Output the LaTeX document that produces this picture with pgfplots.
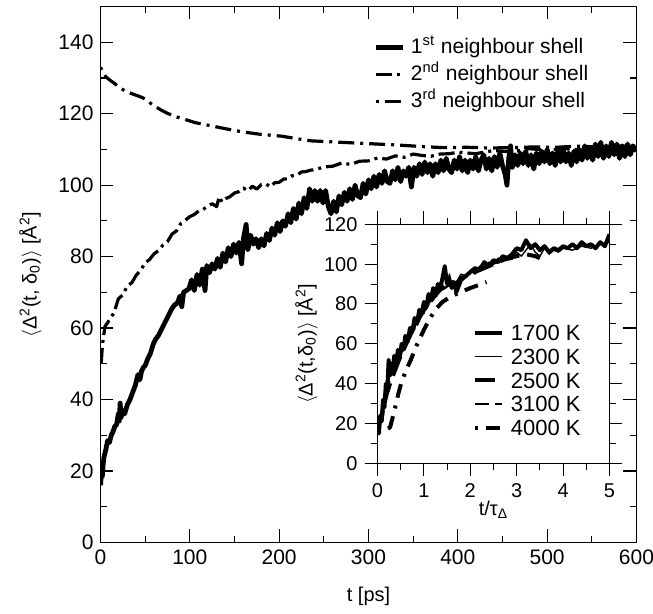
\documentclass[border=0pt]{standalone}
\usepackage{fontspec}
\setmainfont{Liberation Sans}
\usepackage{pgfplots}
\pgfplotsset{compat=1.18}
\newcommand{\mainfont}{\fontsize{10.5bp}{12bp}\selectfont}
\newcommand{\insetfont}{\fontsize{10bp}{12bp}\selectfont}
\newcommand{\insetlegfont}{\fontsize{11bp}{13bp}\selectfont}
\begin{document}
\begin{tikzpicture}
\begin{axis}[
  at={(0,0)}, anchor=south west,
  scale only axis, width=268bp, height=268bp,
  xmin=0, xmax=600, ymin=0, ymax=150,
  xtick={0,100,...,600}, ytick={0,20,...,140},
  minor x tick num=1, minor y tick num=1,
  tick align=inside,
  major tick length=6.5bp, minor tick length=3.4bp,
  axis line style={line width=0.9bp},
  every tick/.style={black, line width=0.6bp},
  /pgf/number format/assume math mode=true,
  tick label style={font=\mainfont},
  label style={font=\mainfont},
  xlabel={t [ps]},
  ylabel={$\langle$Δ\textsuperscript{2}(t, δ\textsubscript{0})$\rangle$ [Å\textsuperscript{2}]},
  every axis x label/.style={at={(axis description cs:0.5,-0.1007)}, anchor=center},
  every axis y label/.style={at={(axis description cs:-0.1306,0.5)}, rotate=90, anchor=center},
  legend style={draw=none, fill=none, at={(axis description cs:0.508,0.9453)}, anchor=north west,
    inner sep=0pt, row sep=2bp, font=\mainfont,
    nodes={inner ysep=0.5bp, inner xsep=3bp, text height=8bp, text depth=2.5bp}},
  legend cell align=left,
  legend image code/.code={\draw[#1] (0bp,0bp) -- (13.5bp,0bp);},
]
\addplot[black, line width=2.4bp, line join=round] coordinates {
(0,16.0)(1,19.5)(2,18.5)(3,22)(4,24)(6,26)(8,28.5)(10,28)(12,30)(14,31)
(16,32.5)(18,33)(20,36)(21,34)(22,39)(23,35)(25,37)(27,36)(30,38.5)(33,40)
(36,42)(39,44)(42,47)(44,45.5)(46,48)(48,49)(50,49.5)(53,51.5)(56,53)(59,55.5)
(62,57)(65,58)(68,59.5)(71,61)(74,62.5)(77,64)(80,65.5)(83,66.5)(86,67)(89,69)
(91,66)(93,70)(96,70.5)(99,71)
(102,73.5)(105,70.5)(108,75)(111,72)(114,76.5)(117,70.5)(119,77.5)(122,75.5)(125,78)(128,76.5)
(131,79.5)(134,77)(137,81)(140,78.5)(143,82.5)(146,80)(149,83.5)(152,81)(155,84)(158,78)
(160,85)(163,89)(165,82)(168,86)(171,83.5)(174,85)(177,82.5)(180,85)(183,83)(186,86.5)
(189,84.5)(192,88)(195,86)(198,89.5)(201,87)(204,90)(207,88.5)(210,92)(213,89.5)(216,93.5)
(219,90.5)(222,95)(225,92)(228,96.5)(231,93.5)(234,99)(237,95.5)(240,98.5)(243,95.5)(246,98.5)
(249,95)(252,98.5)(255,94)(258,92)(261,95.5)(264,92.5)(267,97)(270,94.5)(273,98)(276,95.5)
(279,99)(282,96)(285,100)(288,97)(291,96.5)(294,100.5)(297,97.5)(300,101.5)(303,99)(306,102.5)
(309,99.5)(312,103)(315,100.5)(318,104)(321,101)(324,100.5)(327,104)(330,101.5)(333,105)(336,101)
(339,104)(342,102.5)(345,105)(348,99.5)(351,105)(354,102.5)(357,106)(360,103)(363,106.5)(366,103.5)
(369,106)(372,102.5)(375,106)(378,103.5)(381,107)(384,104)(387,107.5)(390,104.5)(393,103.5)(396,107)
(399,104.5)(402,108)(405,104)(408,107)(411,103.5)(414,107)(417,104.5)(420,108)(423,104)(426,107)
(429,108.5)(432,104.5)(435,107.5)(438,104)(441,108)(444,105)(447,109)(450,105.5)(453,103)(455,100)
(457,107.5)(459,111)(461,105)(464,108.5)(467,105.5)(470,109)(473,106)(476,109.5)(479,105.5)(482,108.5)
(485,104.5)(488,109)(491,106)(494,109.5)(497,106.5)(500,110)(503,106)(506,109)(509,105.5)(512,109.5)
(515,106.5)(518,110)(521,106.5)(524,109)(527,105.5)(530,109.5)(533,106.5)(536,110)(539,107)(542,111)
(545,107.5)(548,110.5)(551,107)(554,111.5)(557,108)(560,112)(563,107.5)(566,111)(569,108)(572,112)
(575,108.5)(578,111.5)(581,107.5)(584,111)(587,108)(590,111.5)(593,108.5)(596,111)(600,109.5)
};
\addlegendentry{1\textsuperscript{st} neighbour shell}
\addplot[black, line width=1.6bp, line join=round, dash pattern=on 8bp off 2.5bp on 1.5bp off 2.5bp] coordinates {
(0.5,50)(1,51)(2,54.5)(3,57)(5,60.5)(8,61.5)(11,62.8)(15,64.2)(20,68.2)(25,69.3)
(30,71.8)(35,72.7)(40,74.8)(45,76.2)(50,78.3)(55,79.2)(60,80.8)(65,81.7)(70,83.3)(75,84.2)
(80,86.3)(85,87.2)(90,89.3)(95,90.2)(100,91.2)(105,91.8)(110,92.8)(115,93.2)(120,94.2)(125,94.8)
(130,94)(133,96.8)(136,95.3)(140,96.2)(145,96.8)(150,97.8)(155,98.2)(160,99.2)(165,98.4)(170,99.7)
(175,98.9)(180,100.2)(185,100.4)(190,99.5)(195,100.7)(200,100.8)(205,101.7)(210,101.8)(215,102.7)(220,102.8)
(225,103.7)(230,103.8)(235,104.2)(240,104.3)(250,105.1)(260,105.3)(270,106.2)(280,105.8)(290,106.7)(300,106.8)
(310,107.6)(320,107.3)(330,108.2)(340,107.8)(350,108.7)(360,108.3)(370,108.1)(380,108.7)(390,108.8)(400,109.2)
(420,108.8)(440,109.7)(460,109.3)(480,110.2)(500,109.8)(520,110.2)(540,109.8)(560,110.6)(580,110)(600,110.2)
};
\addlegendentry{2\textsuperscript{nd} neighbour shell}
\addplot[black, line width=1.6bp, line join=round, dash pattern=on 8bp off 3bp on 1.5bp off 3bp, dash phase=11bp] coordinates {
(0,133)(3,131.5)(6,130.3)(10,129.5)(16,128.4)(22,127.2)(28,126.3)(35,125.6)(45,124.7)(50,124.1)
(55,123.1)(60,122.2)(68,121)(75,120.1)(85,119.1)(97,118.2)(106,117.5)(120,116.8)(136,116)(150,115.3)
(165,114.7)(180,114.2)(203,113.7)(220,113)(236,112.4)(260,112.1)(285,111.8)(310,111.5)(335,111.2)(360,110.8)
(384,110.5)(410,110.6)(435,110.4)(459,110.5)(485,110.7)(510,110.6)(533,110.9)(560,110.7)(580,111)(600,110.8)
};
\addlegendentry{3\textsuperscript{rd} neighbour shell}
\end{axis}
\begin{axis}[
  at={(138.5bp,39.6bp)}, anchor=south west,
  scale only axis, width=116bp, height=119.5bp,
  xmin=0, xmax=5, ymin=0, ymax=120,
  xtick={0,...,5}, ytick={0,20,...,120},
  minor x tick num=1, minor y tick num=1,
  tick align=outside,
  major tick length=6.5bp, minor tick length=3.2bp,
  axis line style={line width=0.6bp},
  every tick/.style={black, line width=0.5bp},
  axis background/.style={fill=white},
  /pgf/number format/assume math mode=true,
  tick label style={font=\insetfont},
  label style={font=\mainfont},
  xlabel={t/τ\textsubscript{Δ}},
  ylabel={$\langle$Δ\textsuperscript{2}(t,δ\textsubscript{0})$\rangle$ [Å\textsuperscript{2}]},
  every axis x label/.style={at={(axis description cs:0.5,-0.195)}, anchor=center},
  every axis y label/.style={at={(axis description cs:-0.306,0.5)}, rotate=90, anchor=center},
  legend style={draw=none, fill=none, at={(axis description cs:0.411,0.588)}, anchor=north west,
    inner sep=0pt, row sep=2.4bp, font=\insetlegfont,
    nodes={inner ysep=0.5bp, inner xsep=3.5bp, text height=8.2bp, text depth=0.3bp}},
  legend cell align=left,
  legend image code/.code={\draw[#1] (0bp,0bp) -- (13.3bp,0bp);},
]
\addplot[black, line width=2bp, line join=round] coordinates {
(0,17)(0.03,15)(0.06,24)(0.09,21)(0.12,32)(0.15,28)(0.18,40)(0.21,36)(0.24,52)(0.27,44)
(0.30,50)(0.33,46)(0.36,54)(0.40,50)(0.44,57)(0.48,53)(0.52,60)(0.56,57)(0.60,64)(0.65,61)
(0.70,68)(0.75,66)(0.80,73)(0.85,70)(0.90,77)(0.95,75)(1.00,81)(1.05,78)(1.10,85)(1.15,82)
(1.20,88)(1.25,84)(1.30,90)(1.35,87)(1.40,93)(1.45,99)(1.50,90)(1.55,92)(1.60,88)(1.65,91)
(1.70,86)(1.75,89)(1.80,92)(1.90,94)(2.00,96)(2.10,98)(2.20,97)(2.30,101)(2.40,99)(2.50,102)
(2.60,101)(2.70,104)(2.80,103)(2.90,105)(3.00,108)(3.10,107)(3.20,112)(3.30,108)(3.40,110)(3.50,107)
(3.60,109)(3.70,106)(3.80,108)(3.90,107)(4.00,109)(4.10,108)(4.20,110)(4.30,108)(4.40,111)(4.50,109)
(4.60,110)(4.70,108)(4.80,111)(4.90,109)(5.00,115)
};
\addlegendentry{1700 K}
\addplot[black, line width=0.7bp, line join=round] coordinates {
(0,16)(0.05,22)(0.1,28)(0.13,24)(0.15,35)(0.2,42)(0.22,38)(0.25,47)(0.3,45)(0.35,52)(0.4,49)(0.45,55)(0.5,53)
(0.55,60)(0.6,58)(0.65,65)(0.7,63)(0.75,69)(0.8,67)(0.85,73)(0.9,71)(0.95,77)(1.0,75)(1.05,81)(1.1,79)
(1.15,85)(1.2,82)(1.25,88)(1.3,85)(1.35,91)(1.4,88)(1.5,89)(1.55,95)(1.6,90)(1.7,91)
(1.8,95)(1.9,94)(2.0,97)(2.1,95)(2.2,99)(2.3,98)(2.4,101)(2.5,100)
(2.6,103)(2.7,102)(2.8,104)(2.9,103)(3.0,106)(3.1,104)(3.2,107)(3.3,110)(3.4,106)(3.5,104)
(3.6,108)(3.7,105)(3.8,107)(3.9,106)(4.0,108)(4.2,107)(4.4,109)(4.6,108)(4.8,110)(5.0,111)
};
\addlegendentry{2300 K}
\addplot[black, line width=2bp, line join=round, dash pattern=on 10bp off 4bp] coordinates {
(0,17)(0.1,25)(0.2,35)(0.3,42)(0.4,48)(0.5,54)(0.6,59)(0.7,64)(0.8,69)(0.9,73)
(1.0,77)(1.1,80)(1.2,83)(1.3,86)(1.4,88)(1.5,89)(1.6,91)(1.7,90)(1.8,93)(2.0,95)
(2.2,97)(2.4,99)(2.6,101)(2.8,103)(3.0,104)(3.2,105)(3.4,104)(3.5,103)
};
\addlegendentry{2500 K}
\addplot[black, line width=0.7bp, line join=round, dash pattern=on 7bp off 3bp on 4bp off 3bp] coordinates {
(0,18)(0.1,27)(0.2,36)(0.3,44)(0.4,50)(0.5,55)(0.6,60)(0.7,65)(0.8,70)(0.9,74)
(1.0,77)(1.2,83)(1.4,87)(1.6,90)(1.8,92)(2.0,95)(2.2,97)(2.4,99)(2.6,101)(2.8,102)(3.0,103)
};
\addlegendentry{3100 K}
\addplot[black, line width=2bp, line join=round, dash pattern=on 1.5bp off 4bp on 7bp off 4bp] coordinates {
(0,16)(0.15,16.5)(0.27,18)(0.35,25)(0.45,35)(0.52,41)(0.62,47)(0.72,52)(0.82,58)(0.92,63)
(1.0,67)(1.09,71)(1.24,77)(1.4,81)(1.6,84)(1.8,86)(2.0,88)(2.24,90)(2.35,91)
};
\addlegendentry{4000 K}
\end{axis}
\pgfresetboundingbox
\path[use as bounding box] (-50.25bp,-35.75bp) rectangle (276.25bp,271.25bp);
\end{tikzpicture}
\end{document}
